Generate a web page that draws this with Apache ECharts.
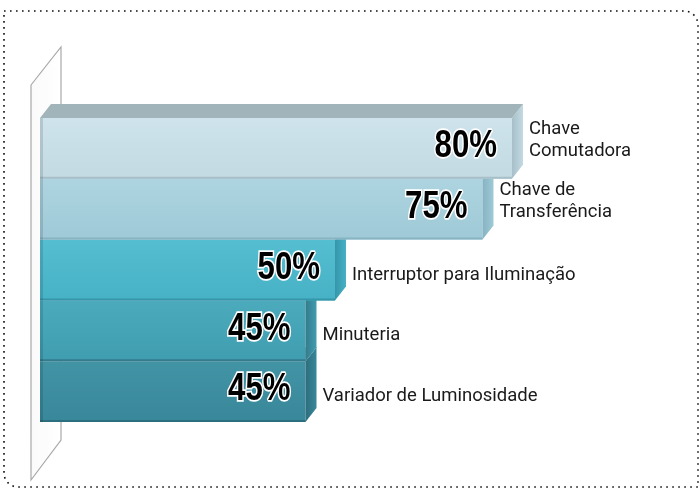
<!DOCTYPE html>
<html>
<head>
<meta charset="utf-8">
<script src="https://cdn.jsdelivr.net/npm/echarts@6/dist/echarts.min.js"></script>
<style>
  html, body { margin: 0; padding: 0; background: #fff; }
  #chart { width: 700px; height: 488px; }
</style>
</head>
<body>
<div id="chart"></div>
<script>
// dados
const categorias = ['Chave\nComutadora', 'Chave de\nTransferência', 'Interruptor para Iluminação', 'Minuteria', 'Variador de Luminosidade'];
const valores = [80, 75, 50, 45, 45];

// cores de cada barra (frente, lateral)
const corFrenteTopo = ['#cee3eb', '#add4e0', '#55bed1', '#4babbd', '#4294a5'];
const corFrenteBase = ['#c3dae3', '#9fc9d7', '#47b1c5', '#3f9daf', '#38879a'];
const corLateral = ['#a7bfc8', '#86b4c2', '#3596a9', '#347b8c', '#2d6e7e'];
const corTopo = '#a1b4b9';

const DX = 11, DY = -14;
const n = valores.length;

const chart = echarts.init(document.getElementById('chart'));

function renderBarra(params, api) {
  const i = params.dataIndex;
  const ini = api.coord([0, api.value(1)]);
  const fim = api.coord([api.value(0), api.value(1)]);
  const banda = api.size([0, 1])[1];
  const x0 = ini[0], x1 = fim[0];
  const y0 = fim[1] - banda / 2, y1 = fim[1] + banda / 2;
  const z = (n - i) * 10;
  const filhos = [];
  // frente
  filhos.push({
    type: 'rect', z2: z,
    shape: { x: x0, y: y0, width: x1 - x0, height: y1 - y0 },
    style: {
      fill: new echarts.graphic.LinearGradient(0, 0, 0, 1, [
        { offset: 0, color: corFrenteTopo[i] },
        { offset: 1, color: corFrenteBase[i] }
      ])
    }
  });
  // linha de separação embaixo
  filhos.push({
    type: 'line', z2: z + 1,
    shape: { x1: x0, y1: y1 - 1, x2: x1, y2: y1 - 1 },
    style: { stroke: corLateral[i], lineWidth: 2 }
  });
  // sombra à esquerda
  filhos.push({
    type: 'rect', z2: z + 1,
    shape: { x: x0, y: y0, width: 3, height: y1 - y0 },
    style: { fill: 'rgba(0,0,0,0.12)' }
  });
  // lateral
  filhos.push({
    type: 'polygon', z2: z,
    shape: { points: [[x1, y0], [x1 + DX, y0 + DY], [x1 + DX, y1 + DY], [x1, y1]] },
    style: {
      fill: new echarts.graphic.LinearGradient(0, 0, 1, 0, [
        { offset: 0, color: corLateral[i] },
        { offset: 1, color: corFrenteBase[i] }
      ])
    }
  });
  // topo
  filhos.push({
    type: 'polygon', z2: z,
    shape: { points: [[x0, y0], [x0 + DX, y0 + DY], [x1 + DX, y0 + DY], [x1, y0]] },
    style: { fill: corTopo }
  });
  // valor (fonte condensada por escala horizontal)
  filhos.push({
    type: 'text', z2: 100,
    x: x1 - 15, y: fim[1] - 2,
    scaleX: 0.8,
    style: {
      x: 0, y: 0,
      text: api.value(0) + '%',
      align: 'right', verticalAlign: 'middle',
      fontFamily: '"Liberation Sans", Arial, sans-serif',
      fontWeight: 'bold', fontSize: 39,
      fill: '#000', stroke: '#fff', lineWidth: 3.5
    }
  });
  // categoria
  const nome = categorias[i];
  const duasLinhas = nome.indexOf('\n') >= 0;
  filhos.push({
    type: 'text', z2: 100,
    style: {
      x: x1 + DX + 6, y: fim[1] + (duasLinhas ? -8 : 5),
      text: nome,
      align: 'left', verticalAlign: 'middle',
      fontFamily: 'Roboto, "Noto Sans", sans-serif',
      fontSize: 18.5, lineHeight: 22,
      fill: '#1a1a1a'
    }
  });
  return { type: 'group', children: filhos };
}

const option = {
  animation: false,
  backgroundColor: '#fff',
  grid: { left: 40, right: 70, top: 118, bottom: 66 },
  xAxis: { type: 'value', min: 0, max: 100, show: false },
  yAxis: { type: 'category', inverse: true, data: categorias, show: false },
  graphic: [
    {
      type: 'rect', z: -10,
      shape: { x: 4, y: 11, width: 694, height: 476, r: [0, 14, 0, 14] },
      style: { fill: 'none', stroke: '#111', lineWidth: 1.6, lineDash: [1.6, 4.4] }
    },
    {
      type: 'polygon', z: -5,
      shape: { points: [[31, 85], [61, 47], [61, 440], [31, 480]] },
      style: {
        fill: new echarts.graphic.LinearGradient(0, 0, 1, 0, [
          { offset: 0, color: '#fafafa' },
          { offset: 1, color: '#ffffff' }
        ]),
        stroke: '#a9a9a9', lineWidth: 1.2
      }
    }
  ],
  series: [{
    type: 'custom',
    renderItem: renderBarra,
    encode: { x: 0, y: 1 },
    data: valores.map((v, i) => [v, i])
  }]
};

chart.setOption(option);
</script>
</body>
</html>
